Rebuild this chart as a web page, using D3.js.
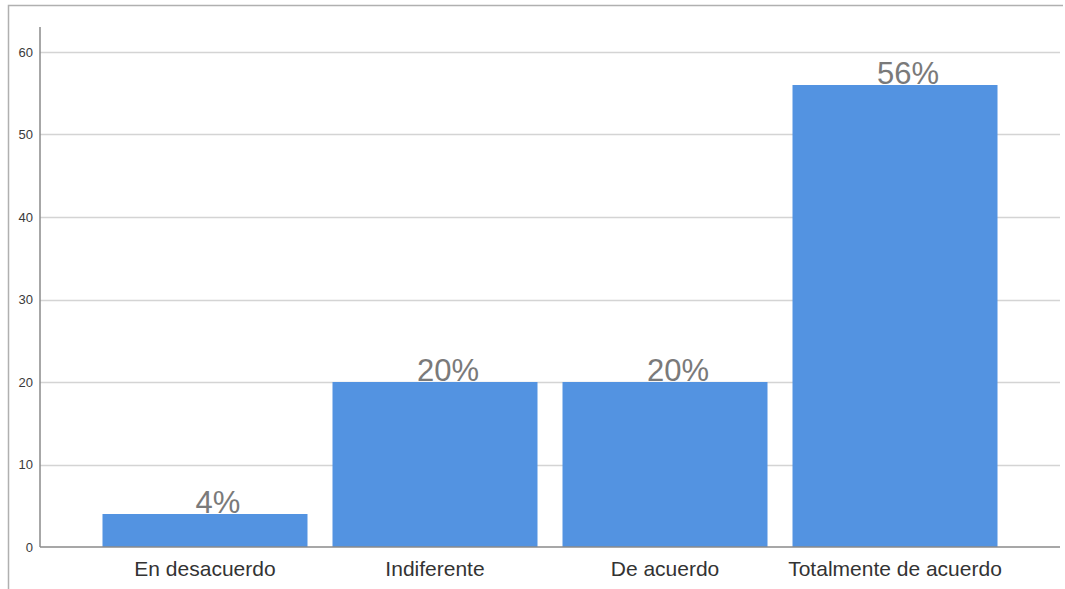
<!DOCTYPE html>
<html><head><meta charset="utf-8">
<script src="https://cdn.jsdelivr.net/npm/d3@7"></script>
<style>html,body{margin:0;padding:0;background:#fff;}svg{display:block;}</style>
</head><body>
<svg id="chart" width="1065" height="589"></svg>
<script>
const categories = ["En desacuerdo", "Indiferente", "De acuerdo", "Totalmente de acuerdo"];
const values = [4, 20, 20, 56];
const valueLabels = ["4%", "20%", "20%", "56%"];
const yTicks = [0, 10, 20, 30, 40, 50, 60];

(function () {
const svg = d3.select("#chart");
const mLeft = 40, mRight = 1060, mTop = 27, mBottom = 547;

// frame
svg.append("path").attr("d", "M8.5,589 V5.5 H1063")
  .attr("fill", "none").attr("stroke", "#b0b0b0").attr("stroke-width", 1.5);

const y = d3.scaleLinear().domain([0, 60]).range([mBottom, 52]);
const x = d3.scaleBand().domain(categories).range([mLeft, mRight])
  .paddingInner(0.1087).paddingOuter(0.2717);

// gridlines
svg.append("g").selectAll("line").data(yTicks.filter(d => d > 0)).join("line")
  .attr("x1", mLeft).attr("x2", mRight)
  .attr("y1", d => Math.round(y(d)) + 0.5).attr("y2", d => Math.round(y(d)) + 0.5)
  .attr("stroke", "#d4d4d4").attr("stroke-width", 1.5);

// bars
svg.append("g").selectAll("rect").data(values).join("rect")
  .attr("x", (d, i) => x(categories[i]))
  .attr("width", x.bandwidth())
  .attr("y", d => y(d))
  .attr("height", d => mBottom - y(d))
  .attr("fill", "#5393e1");

// value labels
svg.append("g").selectAll("text").data(values).join("text")
  .attr("x", (d, i) => x(categories[i]) + x.bandwidth() / 2 + 13)
  .attr("y", d => y(d) - 1)
  .attr("text-anchor", "middle")
  .attr("font-family", "Liberation Sans, Arial, sans-serif")
  .attr("font-size", 31)
  .attr("fill", "#7a7a7a")
  .text((d, i) => valueLabels[i]);

// y axis
const yAxis = d3.axisLeft(y).tickValues(yTicks).tickSize(0).tickPadding(7);
const gy = svg.append("g").attr("transform", `translate(${mLeft},0)`).call(yAxis);
gy.select(".domain").remove();
gy.selectAll("text").attr("font-family", "Liberation Sans, Arial, sans-serif")
  .attr("font-size", 13).attr("fill", "#3a3a3a");
svg.append("line").attr("x1", mLeft).attr("x2", mLeft).attr("y1", mTop).attr("y2", mBottom)
  .attr("stroke", "#8a8a8a").attr("stroke-width", 1.5);

// x axis
const xAxis = d3.axisBottom(x).tickSize(0).tickPadding(14);
const gx = svg.append("g").attr("transform", `translate(0,${mBottom})`).call(xAxis);
gx.select(".domain").remove();
gx.selectAll("text").attr("font-family", "Liberation Sans, Arial, sans-serif")
  .attr("font-size", 21).attr("fill", "#333");
svg.append("line").attr("x1", mLeft).attr("x2", mRight).attr("y1", mBottom).attr("y2", mBottom)
  .attr("stroke", "#8a8a8a").attr("stroke-width", 1.5);
})();
</script>
</body></html>
